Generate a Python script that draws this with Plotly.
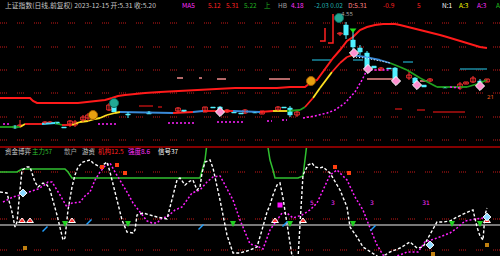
import plotly.graph_objects as go

# ---------------- DATA ----------------
# Upper pane: candles (x index, open, high, low, close)
cand_x = [15, 20, 45, 50, 57, 64, 70, 75, 83, 88, 109, 114, 128, 149, 178, 184, 205, 213, 220, 227,
          234, 241, 245, 255, 262, 278, 284, 290, 297, 340, 346, 353, 360, 367, 374, 381, 389, 395,
          409, 415, 424, 430, 445, 460, 466, 473, 480, 487]
cand_o = [2.4, 2.4, 2.7, 2.7, 2.8, 2.3, 2.6, 2.5, 3.0, 3.2, 4.0, 4.3, 3.6, 3.8, 3.9, 4.0, 3.8, 4.3, 4.3, 3.8,
          3.8, 3.7, 3.7, 3.8, 3.6, 4.0, 4.3, 4.2, 3.5, 11.6, 12.5, 11.0, 10.2, 9.7, 8.4, 8.0, 8.2, 8.2,
          7.2, 7.2, 6.5, 6.9, 6.3, 6.2, 6.6, 6.8, 6.9, 6.8]
cand_h = [2.5, 3.0, 2.9, 2.9, 2.8, 2.3, 3.0, 3.0, 3.5, 3.7, 4.7, 4.6, 3.8, 3.9, 4.3, 4.0, 4.3, 4.3, 4.4, 4.1,
          3.8, 3.7, 4.1, 3.8, 3.9, 4.4, 4.3, 4.4, 3.9, 11.8, 12.8, 11.8, 10.5, 9.9, 8.4, 8.3, 8.2, 8.3,
          7.8, 7.3, 6.5, 7.2, 6.3, 6.8, 6.8, 7.4, 7.1, 7.1]
cand_l = [2.1, 2.3, 2.6, 2.7, 2.6, 2.2, 2.3, 2.3, 2.8, 2.9, 3.9, 3.8, 3.2, 3.6, 3.8, 3.8, 3.8, 4.2, 3.7, 3.7,
          3.7, 3.6, 3.6, 3.7, 3.6, 3.9, 4.2, 3.3, 3.3, 11.4, 11.1, 9.8, 9.5, 7.8, 8.2, 7.9, 8.1, 6.7,
          7.0, 6.5, 6.3, 6.8, 6.2, 6.0, 6.6, 6.7, 6.6, 6.8]
cand_c = [2.2, 2.5, 2.8, 2.8, 2.6, 2.2, 2.9, 2.8, 3.3, 3.5, 4.5, 3.8, 3.5, 3.6, 4.2, 3.8, 4.3, 4.2, 3.8, 4.0,
          3.7, 3.6, 4.0, 3.7, 3.9, 4.3, 4.2, 3.5, 3.8, 11.7, 11.5, 10.3, 9.8, 8.2, 8.2, 8.2, 8.1, 7.0,
          7.5, 6.7, 6.3, 7.1, 6.2, 6.6, 6.8, 7.2, 6.7, 7.1]

# Upper pane: long trend line (red)
trend_x = [0, 30, 33, 37, 78, 88, 93, 105, 112, 118, 125, 133, 145, 160, 180, 200, 215, 235, 277, 290, 305,
           310, 317, 322, 327, 333, 340, 347, 353, 360, 367, 375, 383, 395, 400, 413, 427, 440, 447, 460,
           467, 480, 487]
trend_v = [5.2, 5.2, 4.9, 4.7, 4.7, 4.8, 4.9, 5.0, 5.2, 5.4, 5.5, 5.6, 5.7, 5.8, 5.9, 6.0, 6.1, 6.2, 6.2, 6.3, 6.3,
           6.7, 7.0, 7.7, 8.3, 9.2, 10.0, 10.9, 11.3, 12.0, 12.3, 12.5, 12.6, 12.6, 12.5, 12.2, 11.8, 11.5, 11.3, 10.9,
           10.7, 10.3, 10.2]

# Upper pane: multi-coloured moving line (value + colour state of each segment)
ma_x = [0, 20, 25, 42, 55, 62, 72, 80, 88, 95, 100, 107, 115, 120, 173, 193, 203, 233, 260, 273, 287, 300,
        305, 313, 320, 332, 340, 347, 353, 365, 380, 390, 400, 407, 420, 437, 467, 477, 487]
ma_v = [2.3, 2.3, 2.6, 2.6, 2.7, 2.5, 2.5, 2.8, 2.9, 3.1, 3.2, 3.5, 3.7, 3.8, 3.7, 3.8, 3.9, 3.9, 3.8, 3.9, 3.9, 4.0,
        4.3, 5.2, 6.2, 7.8, 8.7, 9.3, 9.5, 9.3, 9.0, 8.7, 8.3, 8.0, 7.2, 6.3, 6.3, 6.6, 7.0]
ma_state = ["g", "y", "r", "c", "g", "r", "y", "y", "y", "y", "y", "y", "y", "b", "r", "b", "r", "b", "r", "y", "g", "g",
            "r", "y", "y", "r", "r", "r", "b", "b", "b", "g", "g", "g", "g", "g", "g", "g", "g"]

# Upper pane: magenta dotted lagging line (None = gap)
lag_x = [3, 10, None, 98, 118, None, 168, 195, None, 217, 243, None, 267, 272, None, 282, 287, None,
         303, 315, 327, 335, 345, 355, 362, 366, 370, 390, None, 450, 460]
lag_v = [2.6, 2.6, None, 2.6, 2.6, None, 2.7, 2.7, None, 2.8, 2.8, None, 2.9, 2.9, None, 3.0, 3.0, None,
         3.2, 3.4, 3.7, 4.0, 4.7, 5.8, 7.0, 7.8, 8.0, 8.0, None, 6.3, 6.2]

# Upper pane: short level segments (x0, x1, value)
salmon_lv = [(177, 183, 7.2), (199, 202, 7.2), (217, 226, 7.1), (269, 290, 7.1), (367, 393, 7.1), (420, 427, 6.9)]
teal_lv = [(312, 332, 9.0), (353, 363, 9.0), (403, 413, 8.8), (460, 487, 8.1)]
dred_lv = [(139, 153, 4.4), (158, 162, 4.3), (395, 402, 4.1), (417, 425, 4.0), (433, 465, 3.8)]
# limit-up bracket marks
lim_x = [325, 325, 320, None, 333, 333, 328]
lim_v = [12.2, 10.9, 10.9, None, 13.6, 10.7, 10.7]
blue_x = [353, 365, 380, 390]
blue_v = [9.3, 9.2, 8.9, 8.7]

# Upper pane signal markers
orange_x = [93, 311]; orange_v = [3.5, 6.9]
teal_x = [114, 339]; teal_v = [4.7, 13.2]
gem_x = [220, 354, 368, 396, 417, 480]; gem_v = [3.8, 9.7, 8.1, 6.9, 6.5, 6.4]
tri_x = [353]; tri_v = [12.0]

# Lower pane oscillators
w_x = [0, 7, 8, 12, 15, 17, 20, 22, 27, 30, 32, 35, 38, 43, 47, 50, 57, 63, 65, 68, 72, 75, 78, 83, 90, 93, 100,
       104, 107, 110, 117, 122, 127, 133, 135, 137, 143, 150, 157, 167, 172, 177, 180, 185, 190, 193, 197, 200,
       202, 205, 210, 213, 220, 227, 233, 240, 250, 257, 262, 267, 270, 273, 277, 280, 283, 287, 292, 298, 300,
       303, 308, 312, 315, 320, 323, 330, 340, 347, 350, 357, 363, 372, 380, 390, 400, 410, 417, 423, 430, 437,
       443, 450, 457, 463, 470, 473, 477, 480, 483, 485, 487]
w_v = [33, 32, 28, 13, -2, 3, 35, 55, 58, 58, 52, 43, 38, 42, 40, 35, 10, -15, -13, 15, 38, 50, 58, 63, 65, 62, 58,
       61, 63, 53, 25, 5, -7, -8, -5, 10, 12, 10, 8, 6, 25, 45, 47, 40, 44, 45, 35, 38, 52, 63, 65, 57, 25, -10,
       -28, -28, -25, -22, -5, 13, 20, 30, 40, 42, 27, 3, -31, -33, 5, 50, 60, 62, 58, 57, 58, 52, 35, 18, -2,
       -12, -22, -28, -33, -27, -23, -17, -23, -22, -10, 3, 3, 4, 8, 11, 14, 15, -2, -11, -15, 10, 17]
m_x = [3, 13, 20, 25, 32, 38, 43, 48, 52, 57, 62, 67, 72, 80, 85, 90, 95, 100, 105, 110, 115, 120, 127, 133, 140,
       147, 152, 157, 162, 167, 175, 182, 187, 192, 200, 207, 213, 220, 225, 233, 240, 247, 250, 257, 263, 270,
       277, 282, 287, 293, 302, 310, 317, 323, 330, 337, 342, 347, 355, 363, 370, 377, 383, 390, 400, 407, 418,
       425, 437, 450, 457, 465, 475, 483]
m_v = [23, 28, 30, 32, 34, 36, 39, 43, 43, 35, 27, 18, 22, 23, 29, 33, 45, 53, 59, 62, 53, 45, 33, 22, 13, 4, 2, 2,
       7, 8, 15, 18, 25, 32, 35, 43, 48, 49, 40, 25, 5, -12, -19, -21, -24, -5, 5, 12, 12, 7, 10, 15, 22, 35, 50,
       55, 50, 45, 28, 15, -3, -20, -30, -33, -30, -27, -27, -17, -13, -8, -3, 4, 6, 7]
g_x = [0, 17, 22, 65, 68, 72, 200, 203, 205, 208, None, 266, 270, 273, 275, 298, 303, 308]
g_v = [53, 53, 56, 56, 53, 47, 47, 57, 65, 90, None, 90, 65, 55, 47, 47, 49, 90]

# Lower pane signals
buy_x = [22, 30, 72, 275, 303, 487]; buy_v = [4, 4, 4, 4, 4, 4]
sell_x = [65, 128, 233, 290, 353, 452, 480]; sell_v = [-2, -2, -2, -2, -2, -2, -2]
ice_x = [23, 430, 487]; ice_v = [32, -20, 8]
cy_x = [45, 89, 201, 285, 373]; cy_v = [-4, 3, -2, 1, -3]
sq_x = [280]; sq_v = [20]
num_x = [312, 333, 372, 426]; num_v = [22, 22, 22, 22]; num_t = ["5", "3", "3", "31"]
org_x = [102, 117, 125, 335, 349]; org_v = [58, 60, 52, 58, 52]
gold_x = [25, 433, 487]; gold_v = [-23, -29, -20]

# Grid levels
up_grid = [12.7, 10.3, 8.0, 5.7, 3.3, 1.0]
lo_grid = [53, 6, -25]

# Header texts (text, colour, x pixel)
top_txt = [("上证指数(日线,前复权) 2023-12-15 开:5.31 收:5.20", "#c8c8c8", 3), ("MA5", "#ff30ff", 180), ("5.12", "#ff2020", 206),
           ("5.31", "#ff2020", 224), ("5.22", "#20b020", 242), ("上", "#20b020", 262), ("HB", "#a0a0a0", 276),
           ("4.18", "#ff30ff", 289), ("-2.03 0.02", "#20b0b0", 312), ("D:5.31", "#ff8080", 346),
           ("-0.9", "#ff2020", 381), ("5", "#ff2020", 415), ("N:1", "#ffffff", 440), ("A:3", "#ffff00", 457),
           ("A:3", "#ff30ff", 475), ("A", "#20c020", 494)]
low_txt = [("资金博弈", "#c8c8c8", 3), ("主力57", "#30c030", 30), ("散户", "#a0a0a0", 62), ("游资", "#d0d0d0", 80),
           ("机构12.5", "#ff2020", 96), ("强度8.6", "#ff30ff", 126), ("信号37", "#ffffff", 156)]

# ---------------- FIGURE ----------------
fig = go.Figure()
U = dict(xaxis="x", yaxis="y")
L = dict(xaxis="x2", yaxis="y2")


def line(x, y, color, width=1.0, dash=None, ax=U, shape="linear"):
    fig.add_trace(go.Scatter(x=x, y=y, mode="lines", line=dict(color=color, width=width, dash=dash, shape=shape),
                             hoverinfo="skip", connectgaps=False, **ax))


def segs(levels, color, width=1.2):
    xs, ys = [], []
    for x0, x1, v in levels:
        xs += [x0, x1, None]
        ys += [v, v, None]
    line(xs, ys, color, width)


# levels
segs(salmon_lv, "#f08c8c", 1.5)
segs(teal_lv, "#1a8aa0", 1.5)
segs(dred_lv, "#b01010", 1.5)

# trend line
line(trend_x, trend_v, "#ff1a1a", 2.0)

# multicolour MA
ma_col = {"g": "#20a020", "y": "#ffe020", "r": "#ff2020", "c": "#40e0ff", "b": "#3a8ad8"}
for key, col in ma_col.items():
    xs, ys = [], []
    for i in range(len(ma_x) - 1):
        if ma_state[i] == key:
            xs += [ma_x[i], ma_x[i + 1], None]
            ys += [ma_v[i], ma_v[i + 1], None]
    if xs:
        line(xs, ys, col, 1.8)
line(blue_x, blue_v, "#ffffff", 1, dash="1px,2px")

# lagging magenta dotted
line(lag_x, lag_v, "#ff20ff", 1.5, dash="2px,2px")

# candles
up_x, up_b, up_h, dn_x, dn_b, dn_h = [], [], [], [], [], []
wu_x, wu_y, wd_x, wd_y = [], [], [], []
for x, o, h, l, c in zip(cand_x, cand_o, cand_h, cand_l, cand_c):
    lo_b, hi_b = min(o, c), max(o, c)
    if c >= o:
        up_x.append(x); up_b.append(lo_b); up_h.append(max(hi_b - lo_b, 0.08))
        wu_x += [x, x, None]; wu_y += [l, h, None]
    else:
        dn_x.append(x); dn_b.append(lo_b); dn_h.append(max(hi_b - lo_b, 0.08))
        wd_x += [x, x, None]; wd_y += [l, h, None]
line(wu_x, wu_y, "#ff3030", 1)
line(wd_x, wd_y, "#50f0ff", 1)
fig.add_trace(go.Bar(x=up_x, y=up_h, base=up_b, width=4.5, marker=dict(color="#000000", line=dict(color="#ff3030", width=1)),
                     hoverinfo="skip", **U))
fig.add_trace(go.Bar(x=dn_x, y=dn_h, base=dn_b, width=4.5, marker=dict(color="#50f0ff", line=dict(color="#50f0ff", width=0.5)),
                     hoverinfo="skip", **U))
line(lim_x, lim_v, "#ff2020", 1.5)


# upper markers
def mk(x, y, sym, size, color, lc=None, lw=0, ax=U):
    fig.add_trace(go.Scatter(x=x, y=y, mode="markers", hoverinfo="skip",
                             marker=dict(symbol=sym, size=size, color=color, line=dict(color=lc or color, width=lw)), **ax))


mk(orange_x, orange_v, "circle", 9, "#e8a010", "#a05a00", 1)
mk(teal_x, teal_v, "circle", 9, "#22a894", "#0c6a5c", 1)
mk(gem_x, gem_v, "diamond", 7, "#ff8fd0", "#ffffff", 1)
mk(tri_x, tri_v, "triangle-down", 6, "#20e020")

# ---- lower pane ----
line(g_x, g_v, "#30c030", 1.5, ax=L)
line(m_x, m_v, "#ff20ff", 1.5, dash="2px,2px", ax=L)
line(w_x, w_v, "#ffffff", 1.4, dash="3px,2px", ax=L)
mk(buy_x, buy_v, "triangle-up", 6, "#ff3030", "#ffffff", 1, ax=L)
mk(sell_x, sell_v, "arrow-down", 6, "#20d020", ax=L)
mk(ice_x, ice_v, "diamond", 6, "#8ad8ff", "#ffffff", 1, ax=L)
mk(cy_x, cy_v, "line-ne", 5, "#20a0ff", "#20a0ff", 1.5, ax=L)
mk(sq_x, sq_v, "square", 5, "#ff10ff", ax=L)
mk(org_x, org_v, "square", 4, "#ff4010", ax=L)
mk(gold_x, gold_v, "square", 4, "#c08010", ax=L)
fig.add_trace(go.Scatter(x=num_x, y=num_v, mode="text", text=num_t, hoverinfo="skip",
                         textfont=dict(color="#ff30ff", size=6, family="DejaVu Sans"), **L))

# grid / separators
DOTS = "1px,1px,1px,1px,1px,1px,1px,10px"
shapes = []
for v in up_grid:
    shapes.append(dict(type="line", xref="paper", x0=0, x1=1, yref="y", y0=v, y1=v, layer="below",
                       line=dict(color="#c81818", width=1, dash=DOTS)))
for v in lo_grid:
    shapes.append(dict(type="line", xref="paper", x0=0, x1=1, yref="y2", y0=v, y1=v, layer="below",
                       line=dict(color="#c81818", width=1, dash=DOTS)))
shapes.append(dict(type="line", xref="paper", x0=0, x1=1, yref="y2", y0=0, y1=0, layer="below",
                   line=dict(color="#a0a0a0", width=1.5)))
shapes.append(dict(type="line", xref="paper", x0=0, x1=1, yref="paper", y0=1 - 147 / 256, y1=1 - 147 / 256,
                   line=dict(color="#b00000", width=1.5)))

FONT = "Noto Sans CJK SC"
ann = []
for i, (t, c, px) in enumerate(top_txt):
    ann.append(dict(text=t, x=px / 500, y=1 - 5 / 256, xref="paper", yref="paper", xanchor="left", yanchor="middle",
                    showarrow=False, font=dict(color=c, size=6.8 if i == 0 else 6.5, family=FONT)))
for t, c, px in low_txt:
    ann.append(dict(text=t, x=px / 500, y=1 - 151 / 256, xref="paper", yref="paper", xanchor="left", yanchor="middle",
                    showarrow=False, font=dict(color=c, size=6.5, family=FONT)))
ann.append(dict(text="21", x=490, y=5.3, xref="x", yref="y", showarrow=False, font=dict(color="#ff6020", size=6)))
ann.append(dict(text="4.55", x=347, y=13.6, xref="x", yref="y", showarrow=False, font=dict(color="#b0b0b0", size=6)))

fig.update_layout(
    width=500, height=256, margin=dict(l=0, r=0, t=0, b=0),
    paper_bgcolor="#000000", plot_bgcolor="#000000", showlegend=False, barmode="overlay",
    shapes=shapes, annotations=ann,
    xaxis=dict(range=[0, 500], domain=[0, 1], visible=False, anchor="y"),
    yaxis=dict(range=[0.4, 15.0], domain=[1 - 146 / 256, 1], visible=False),
    xaxis2=dict(range=[0, 500], domain=[0, 1], visible=False, anchor="y2", matches="x"),
    yaxis2=dict(range=[-31, 77], domain=[0, 108 / 256], visible=False),
)
fig.write_html("out.html")
